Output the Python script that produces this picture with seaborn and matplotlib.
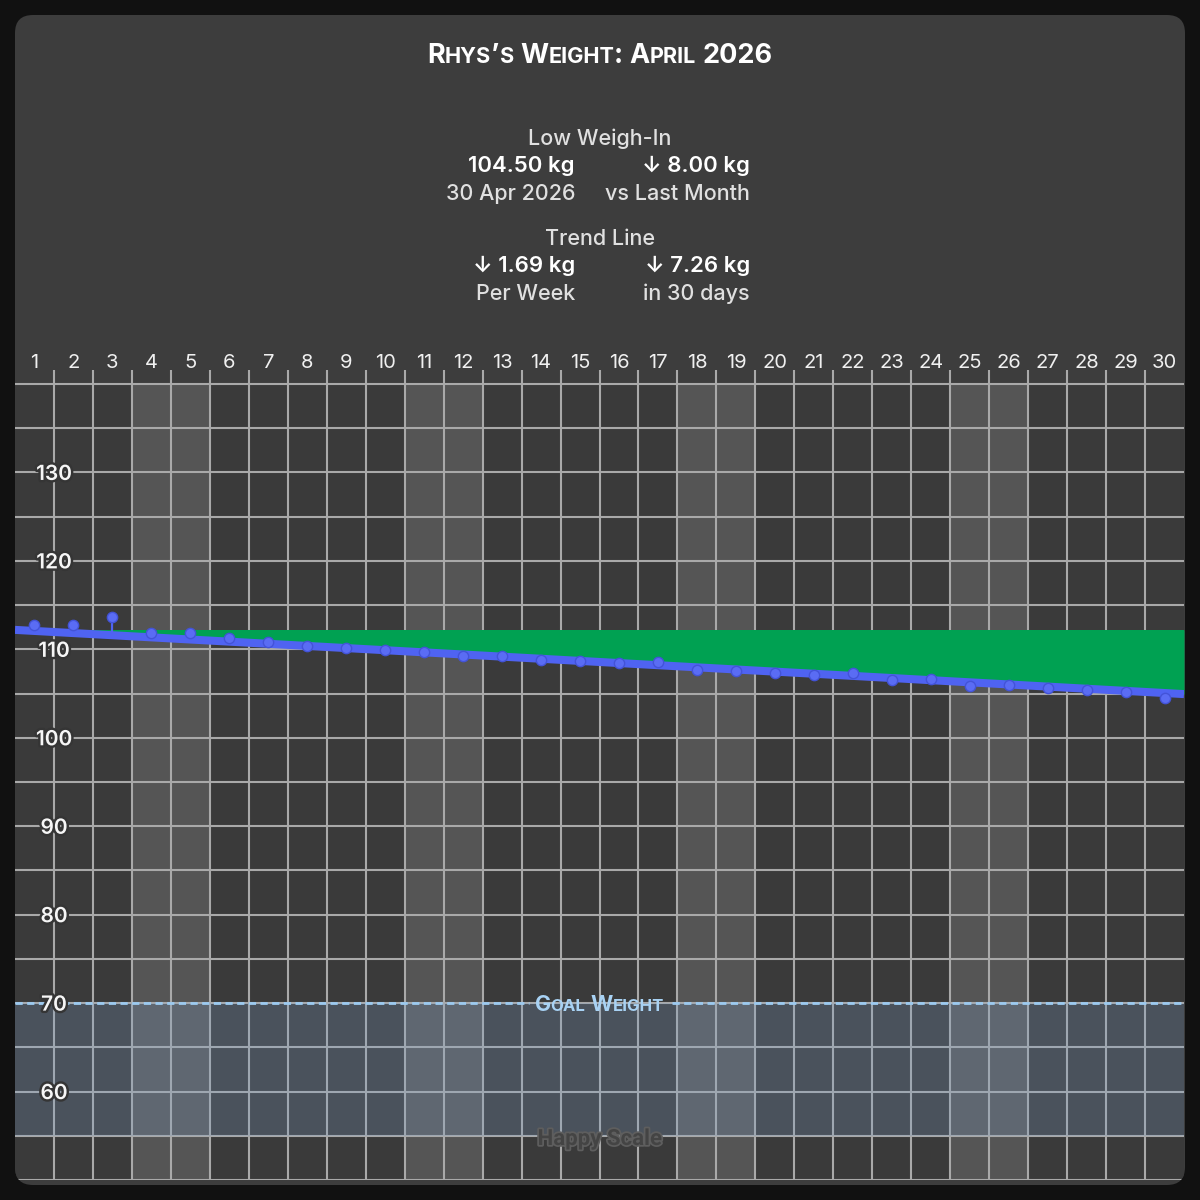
import numpy as np
import pandas as pd
import matplotlib
matplotlib.use("Agg")
import matplotlib.pyplot as plt
import matplotlib.patheffects as pe
from matplotlib.patches import FancyBboxPatch
from matplotlib.transforms import IdentityTransform
import seaborn as sns

# ---------------- data ----------------
days = list(range(1, 31))
weights = [112.8, 112.7, 113.6, 111.9, 111.8, 111.25, 110.8, 110.35, 110.1, 109.9,
           109.65, 109.3, 109.2, 108.75, 108.7, 108.4, 108.6, 107.7, 107.5, 107.3,
           107.05, 107.3, 106.5, 106.7, 105.9, 106.0, 105.6, 105.45, 105.2, 104.5]
trend_days = [0.5, 30.5]
trend_values = [112.20, 104.94]
weekend_days = [4, 5, 11, 12, 18, 19, 25, 26]
goal_weight = 70
goal_zone_floor = 55
y_tick_values = [60, 70, 80, 90, 100, 110, 120, 130]
y_grid_values = [50, 55, 60, 65, 70, 75, 80, 85, 90, 95, 100, 105, 110, 115, 120, 125, 130, 135, 140]
y_min, y_max = 50, 140

title_text = "Rhys’s Weight: April 2026"
low_header = "Low Weigh-In"
low_value = "104.50 kg"
low_date = "30 Apr 2026"
low_change = "↓ 8.00 kg"
low_change_label = "vs Last Month"
trend_header = "Trend Line"
trend_week = "↓ 1.69 kg"
trend_week_label = "Per Week"
trend_total = "↓ 7.26 kg"
trend_total_label = "in 30 days"
goal_label = "Goal Weight"
watermark = "Happy Scale"

# ---------------- style ----------------
W = H = 1200
sns.set_theme(style="dark")
FONT = ['Inter', 'DejaVu Sans']
plt.rcParams['font.family'] = FONT

BLUE = '#4f63f2'
GREEN = '#00a152'
GRID = '#a9a9a9'

fig = plt.figure(figsize=(12, 12), dpi=100, facecolor='#111111')
renderer = fig.canvas.get_renderer()
ID = IdentityTransform()

card = FancyBboxPatch((15, 15), 1170, 1170, boxstyle="round,pad=0,rounding_size=18",
                      transform=ID, facecolor='#3d3d3d', edgecolor='none', zorder=-10)
fig.add_artist(card)

top_px, bottom_px, left_px, right_px = 370, 1180, 15, 1184
ax = fig.add_axes([left_px / W, 1 - bottom_px / H, (right_px - left_px) / W, (bottom_px - top_px) / H])
ppk = (bottom_px - 384) / (y_max - y_min)
y_top = y_max + (384 - top_px) / ppk
ax.set_xlim(0.5, 30.5)
ax.set_ylim(y_min, y_top)
ax.axis('off')

# background and weekend columns
ax.axhspan(y_min, y_max, color='#3a3a3a', zorder=0, lw=0)
ax.bar(weekend_days, [y_max - y_min] * len(weekend_days), bottom=y_min, width=1.0,
       color='#555555', lw=0, zorder=0.5)

# grid
ax.hlines(y_grid_values, 0.5, 30.5, color=GRID, lw=1.5, zorder=1)
ax.vlines(np.arange(1.5, 30.5, 1.0), y_min, y_top, color=GRID, lw=1.5, zorder=1)

# goal zone
ax.axhspan(goal_zone_floor, goal_weight, color='#7fa2cc', alpha=0.24, lw=0, zorder=1.5)

# green area between trend and starting level
ax.fill_between(trend_days, trend_values, trend_values[0], color=GREEN, lw=0, zorder=2)

# stems from weigh-ins to trend
trend_at = np.interp(days, trend_days, trend_values)
ax.vlines(days, trend_at, weights, color=BLUE, lw=1.6, zorder=3)

# trend line
sns.lineplot(x=trend_days, y=trend_values, ax=ax, color=BLUE, lw=5.8, zorder=4,
             solid_capstyle='butt')

# weigh-in dots
df = pd.DataFrame({'day': days, 'weight': weights})
sns.scatterplot(data=df, x='day', y='weight', ax=ax, s=55, color='#5a6cf4',
                edgecolor='#4353d8', linewidth=1.0, zorder=5)

# y labels
for v in y_tick_values:
    ax.annotate(str(v), xy=(1.5, v), xytext=(0, -5.4), textcoords='offset points',
                ha='center', va='baseline', fontsize=15, color='#f6f6f6', fontweight='semibold',
                path_effects=[pe.withStroke(linewidth=3.5, foreground='#353535')], zorder=8)

# day labels
frac = (bottom_px - 368) / (bottom_px - top_px)
for d in days:
    ax.text(d, frac, str(d), transform=ax.get_xaxis_transform(), ha='center', va='baseline',
            fontsize=14.5, color='#f0f0f0', clip_on=False)


def small_caps(x, y, s, size, color, weight='bold', ratio=0.8, family=FONT, zorder=10,
               effects=None, gap_em=0.0):
    runs = []
    for ch in s:
        kind = 'space' if ch == ' ' else ('small' if ch.islower() else 'big')
        c = ch.upper()
        if runs and runs[-1][1] == kind and kind != 'space':
            runs[-1][0] += c
        else:
            runs.append([c, kind])

    def measure(txt, sz):
        t = fig.text(0, 0, txt, fontsize=sz, fontweight=weight, family=family, transform=ID)
        w = t.get_window_extent(renderer).width
        t.remove()
        return w

    space_w = measure('H H', size) - measure('HH', size)
    gap = gap_em * size * 100 / 72
    cur, prev = 0.0, None
    placed = []
    for txt, kind in runs:
        if kind == 'space':
            cur += space_w
            prev = 'space'
            continue
        sz = size * ratio if kind == 'small' else size
        if prev not in (None, 'space'):
            cur += gap
        t = fig.text(0, y, txt, fontsize=sz, fontweight=weight, family=family, color=color,
                     ha='left', va='baseline', transform=ID, zorder=zorder)
        if effects:
            t.set_path_effects(effects)
        w = t.get_window_extent(renderer).width
        placed.append((t, cur))
        cur += w
        prev = kind
    x0 = x - cur / 2
    for t, off in placed:
        t.set_x(x0 + off)
    return x0, x0 + cur


def ftext(x, y_top_px, s, **kw):
    kw.setdefault('va', 'baseline')
    kw.setdefault('family', FONT)
    return fig.text(x, H - y_top_px, s, transform=ID, **kw)


# title
small_caps(600, H - 63, title_text, 19.5, '#ffffff', weight='bold', ratio=0.8)

# stats
LAB = '#e0e0e0'
VAL = '#ffffff'
SZ = 15.5
ftext(600, 145, low_header, ha='center', fontsize=SZ, color=LAB, fontweight='medium')
ftext(575, 172, low_value, ha='right', fontsize=SZ + 0.5, color=VAL, fontweight='semibold')
ftext(750, 172, low_change, ha='right', fontsize=SZ + 0.5, color=VAL, fontweight='semibold')
ftext(575, 200, low_date, ha='right', fontsize=SZ, color=LAB, fontweight='medium')
ftext(750, 200, low_change_label, ha='right', fontsize=SZ, color=LAB, fontweight='medium')
ftext(600, 245, trend_header, ha='center', fontsize=SZ, color=LAB, fontweight='medium')
ftext(575, 272, trend_week, ha='right', fontsize=SZ + 0.5, color=VAL, fontweight='semibold')
ftext(750, 272, trend_total, ha='right', fontsize=SZ + 0.5, color=VAL, fontweight='semibold')
ftext(575, 300, trend_week_label, ha='right', fontsize=SZ, color=LAB, fontweight='medium')
ftext(750, 300, trend_total_label, ha='right', fontsize=SZ, color=LAB, fontweight='medium')

# goal label and dashed line with gap
gx, gy = ax.transData.transform((np.mean(ax.get_xlim()), goal_weight))
gl, gr = small_caps(gx, H - 1011, goal_label, 15.5, '#a8d2f4', weight='bold', ratio=0.78)
inv = ax.transData.inverted()
left_end = inv.transform((gl - 6, gy))[0]
right_end = inv.transform((gr + 8, gy))[0]
for xa, xb in [(0.5, left_end), (right_end, 30.5)]:
    ax.plot([xa, xb], [goal_weight, goal_weight], color='#9ccaf0', lw=2.0,
            linestyle=(0, (2.6, 1.6)), zorder=6)

# watermark
ftext(600, 1145, watermark, ha='center', fontsize=16, fontweight='bold', color='#444444',
      family=['Liberation Sans Narrow', 'Roboto', 'DejaVu Sans'], stretch='condensed',
      path_effects=[pe.withStroke(linewidth=2.5, foreground='#5e5e5e')], zorder=9)

# clip plot marks to the rounded card
for a in list(ax.collections) + list(ax.patches) + list(ax.lines):
    a.set_clip_path(card)

fig.savefig('out.png', dpi=100, facecolor=fig.get_facecolor())
